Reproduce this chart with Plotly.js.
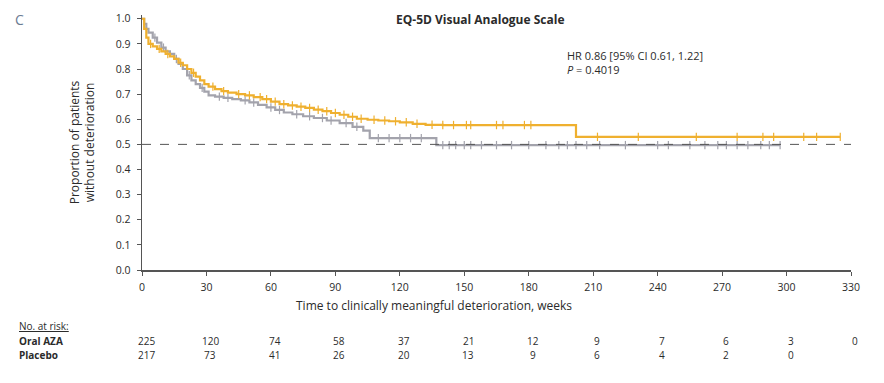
<!DOCTYPE html>
<html><head><meta charset="utf-8">
<script src="https://cdn.plot.ly/plotly-3.0.1.min.js"></script>
<style>html,body{margin:0;padding:0;background:#fff}#chart{width:884px;height:383px}</style>
</head><body><div id="chart"></div>
<script>
// Oral AZA KM steps (weeks, proportion)
const azaTimes = [0,1,2,3,5,7,9,11,13,15,17,19,21,23,25,27,29,31,34,37,40,44,48,52,56,60,64,68,72,76,80,84,88,92,96,100,105,110,115,120,126,132,140,202,325];
const azaSurv  = [1.0,0.96,0.925,0.90,0.89,0.88,0.87,0.86,0.85,0.84,0.825,0.815,0.80,0.785,0.77,0.755,0.74,0.73,0.72,0.712,0.706,0.70,0.695,0.688,0.68,0.67,0.66,0.655,0.65,0.645,0.638,0.632,0.625,0.618,0.61,0.602,0.598,0.595,0.592,0.588,0.582,0.578,0.577,0.53,0.53];
const azaCensor = [4,8,12,18,24,33,38,45,50,55,58,62,66,70,74,78,82,86,90,94,98,102,108,113,118,123,128,135,140,145,151,153,165,168,178,181,212,231,258,277,289,294,308,314,325];

// Placebo KM steps
const pboTimes = [0,1,2,3,5,7,9,11,13,15,17,19,21,23,25,27,29,31,34,38,42,46,50,54,58,62,66,70,75,80,86,92,98,103,106,137,297];
const pboSurv  = [1.0,0.98,0.96,0.945,0.925,0.905,0.885,0.87,0.86,0.84,0.82,0.80,0.775,0.755,0.74,0.725,0.71,0.695,0.69,0.685,0.68,0.675,0.667,0.657,0.647,0.637,0.627,0.62,0.612,0.605,0.595,0.585,0.57,0.555,0.525,0.497,0.497];
const pboCensor = [6,10,16,22,28,36,40,48,52,60,64,72,78,84,88,95,100,110,115,120,125,130,140,143,146,150,153,158,165,172,180,188,194,198,202,207,213,225,240,245,255,262,268,272,277,282,288,292,297];

// Axis ticks and risk table
const xTicks = [0,30,60,90,120,150,180,210,240,270,300,330];
const yTicks = [0,0.1,0.2,0.3,0.4,0.5,0.6,0.7,0.8,0.9,1.0];
const riskAza = ['225','120','74','58','37','21','12','9','7','6','3','0'];
const riskPbo = ['217','73','41','26','20','13','9','6','4','2','0',''];

const orange = '#EFB02F';
const grey = '#A3A3AC';

function stepAt(times, surv, t){
  let s = surv[0];
  for (let i=0;i<times.length;i++){ if (times[i] <= t) s = surv[i]; }
  return s;
}

const traces = [
  {x: pboTimes, y: pboSurv, mode:'lines', line:{shape:'hv', color:grey, width:2.2}, hoverinfo:'skip', showlegend:false},
  {x: pboCensor, y: pboCensor.map(t=>stepAt(pboTimes,pboSurv,t)), mode:'markers',
   marker:{symbol:'line-ns', size:6, line:{color:grey, width:1.2}}, hoverinfo:'skip', showlegend:false},
  {x: azaTimes, y: azaSurv, mode:'lines', line:{shape:'hv', color:orange, width:2.2}, hoverinfo:'skip', showlegend:false},
  {x: azaCensor, y: azaCensor.map(t=>stepAt(azaTimes,azaSurv,t)), mode:'markers',
   marker:{symbol:'line-ns', size:6, line:{color:orange, width:1.2}}, hoverinfo:'skip', showlegend:false}
];

const txt = '#2b2b2b';
const annotations = [
  {text:'<b>EQ-5D Visual Analogue Scale</b>', xref:'paper', yref:'paper', x:0.478, y:1.0, xanchor:'center', yanchor:'bottom', yshift:-15, showarrow:false, font:{size:12, color:txt}},
  {text:'C', xref:'paper', yref:'paper', x:-0.182, y:1.0, xanchor:'left', yanchor:'top', yshift:7, showarrow:false, font:{size:14, color:'#6b7c93'}},
  {text:'HR 0.86 [95% CI 0.61, 1.22]<br><i>P</i> = 0.4019', xref:'x', yref:'y', x:197, y:0.89, xanchor:'left', yanchor:'top', align:'left', showarrow:false, font:{size:11, color:txt}},
  {text:'Time to clinically meaningful deterioration, weeks', xref:'x', yref:'paper', x:136, y:0, yshift:-25, xanchor:'center', yanchor:'top', showarrow:false, font:{size:12, color:txt}},
  {text:'<u>No. at risk:</u>', xref:'paper', yref:'paper', x:-0.177, y:0, yshift:-47, xanchor:'left', yanchor:'top', showarrow:false, font:{size:10, color:txt}},
  {text:'<b>Oral AZA</b>', xref:'paper', yref:'paper', x:-0.177, y:0, yshift:-62, xanchor:'left', yanchor:'top', showarrow:false, font:{size:10, color:txt}},
  {text:'<b>Placebo</b>', xref:'paper', yref:'paper', x:-0.177, y:0, yshift:-76, xanchor:'left', yanchor:'top', showarrow:false, font:{size:10, color:txt}}
];
xTicks.forEach((t,i)=>{
  annotations.push({text:riskAza[i], xref:'x', yref:'paper', x:t, y:0, yshift:-62, xshift:4, xanchor:'center', yanchor:'top', showarrow:false, font:{size:10, color:txt}});
  if (riskPbo[i] !== '') annotations.push({text:riskPbo[i], xref:'x', yref:'paper', x:t, y:0, yshift:-76, xshift:4, xanchor:'center', yanchor:'top', showarrow:false, font:{size:10, color:txt}});
});

const layout = {
  width:884, height:383,
  margin:{l:142, r:33, t:15, b:113},
  paper_bgcolor:'#fff', plot_bgcolor:'rgba(0,0,0,0)',
  font:{family:'"Open Sans", "DejaVu Sans", sans-serif', size:10, color:txt},
  xaxis:{range:[0,330], tickvals:xTicks, ticktext:xTicks.map(String), showgrid:false, zeroline:false,
         showline:true, linecolor:'#555', linewidth:1.5, ticks:'outside', ticklen:4, tickcolor:'#555', tickfont:{size:10.5}, ticklabelstandoff:3},
  yaxis:{range:[0,1.015], tickvals:yTicks, ticktext:yTicks.map(v=>v.toFixed(1)), showgrid:false, zeroline:false,
         showline:true, linecolor:'#555', linewidth:1.5, ticks:'outside', ticklen:4, tickcolor:'#555', tickfont:{size:10.5}, ticklabelstandoff:4,
         title:{text:'Proportion of patients<br>without deterioration', font:{size:12, color:txt}, standoff:18}},
  shapes:[{type:'line', xref:'x', yref:'y', x0:0, x1:330, y0:0.5, y1:0.5, line:{color:'#555', width:1, dash:'dash'}}],
  annotations:annotations
};

Plotly.newPlot('chart', traces, layout, {displayModeBar:false, staticPlot:true});
</script></body></html>
